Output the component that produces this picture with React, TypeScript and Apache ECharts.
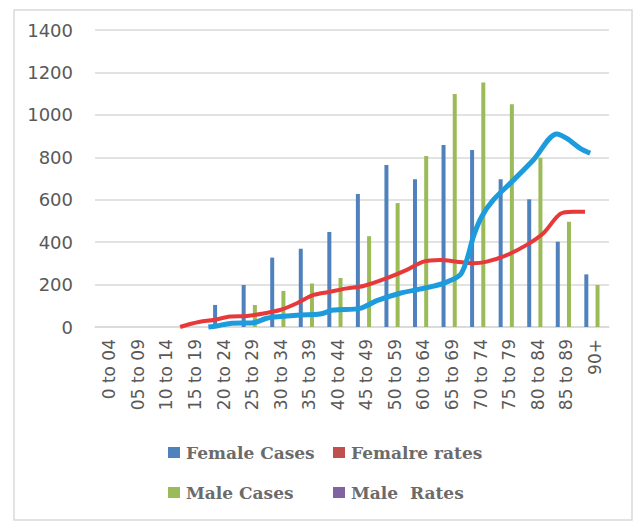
import React, { useEffect, useRef } from "react";
import * as echarts from "echarts";

const categories = [
  "0 to 04", "05 to 09", "10 to 14", "15 to 19", "20 to 24", "25 to 29",
  "30 to 34", "35 to 39", "40 to 44", "45 to 49", "50 to 59", "60 to 64",
  "65 to 69", "70 to 74", "75 to 79", "80 to 84", "85 to 89", "90+",
];
const femaleCases = [0, 0, 0, 0, 104, 198, 327, 369, 448, 627, 764, 696, 858, 834, 696, 602, 402, 248];
const maleCases = [0, 0, 0, 0, 0, 104, 170, 205, 231, 428, 584, 806, 1098, 1152, 1050, 798, 496, 198];
const femaleRates: number[] = [];
const maleRates: number[] = [];

// hand-drawn rate curves (position along category axis, value on case scale)
const femaleCurvePos = [2.98, 3.33, 3.68, 4.15, 4.73, 5.32, 5.9, 6.48, 7.07, 7.65, 8.23, 8.82, 9.4, 10.22, 10.92, 11.5, 12.08, 12.67, 13.25, 13.72, 14.42, 15.12, 15.7, 16.29, 16.75, 17.16];
const femaleCurveVal = [0, 14, 25, 33, 49, 52, 64, 80, 112, 151, 166, 182, 193, 230, 269, 308, 316, 308, 300, 308, 339, 387, 442, 533, 543, 543];
const maleCurvePos = [3.97, 4.26, 4.73, 5.54, 6.01, 6.48, 7.18, 7.88, 8.34, 9.28, 9.87, 10.68, 11.5, 12.2, 12.78, 13.02, 13.25, 13.54, 13.95, 14.54, 15.35, 16.17, 16.52, 16.99, 17.34];
const maleCurveVal = [0, 5, 17, 20, 41, 49, 57, 61, 80, 88, 124, 159, 182, 206, 245, 316, 426, 520, 599, 677, 787, 910, 889, 842, 819];

const yTicks = { min: 0, max: 1400, interval: 200 };

export default function App() {
  const ref = useRef<HTMLDivElement>(null);
  useEffect(() => {
    if (!ref.current) return;
    const chart = echarts.init(ref.current, null, { renderer: "svg" });
    const legendText = {
      fontFamily: "DejaVu Serif",
      fontSize: 17,
      fontWeight: "bold",
      color: "#6b6b6b",
      padding: [0, 0, 0, 1],
    };
    const mkLegend = (name: string, color: string, left: number, top: number) => ({
      data: [{ name, itemStyle: { color } }],
      left,
      top,
      icon: "rect",
      itemWidth: 12,
      itemHeight: 11,
      padding: 0,
      selectedMode: false,
      textStyle: legendText,
    });
    chart.setOption({
      animation: false,
      backgroundColor: "#ffffff",
      graphic: [
        {
          type: "rect",
          shape: { x: 14, y: 10, width: 618, height: 510 },
          style: { fill: "none", stroke: "#D9D9D9", lineWidth: 1.5 },
          silent: true,
        },
      ],
      legend: [
        mkLegend("Female Cases", "#4F81BD", 168, 444),
        mkLegend("Femalre rates", "#C0504D", 333, 444),
        mkLegend("Male Cases", "#9BBB59", 168, 484),
        mkLegend("Male  Rates", "#8064A2", 333, 484),
      ],
      grid: { left: 95, right: 29, top: 30, bottom: 195, containLabel: false },
      xAxis: [
        {
          type: "category",
          data: categories,
          axisTick: { show: false },
          axisLine: { lineStyle: { color: "#D9D9D9", width: 1.5 } },
          axisLabel: {
            interval: 0,
            rotate: 90,
            margin: 12,
            fontFamily: "DejaVu Sans",
            fontSize: 17,
            color: "#595959",
          },
        },
        { type: "value", min: 0, max: 18, show: false },
      ],
      yAxis: {
        type: "value",
        ...yTicks,
        axisLine: { show: false },
        axisTick: { show: false },
        splitLine: { lineStyle: { color: "#D9D9D9", width: 1.5 } },
        axisLabel: {
          margin: 22,
          fontFamily: "DejaVu Sans",
          fontSize: 18,
          color: "#595959",
          formatter: (v: number) => String(v),
        },
      },
      series: [
        { name: "Female Cases", type: "bar", data: femaleCases, barWidth: 4, barGap: "40%", itemStyle: { color: "#4F81BD" } },
        { name: "Femalre rates", type: "bar", data: femaleRates, barWidth: 4, barGap: "40%", itemStyle: { color: "#C0504D" } },
        { name: "Male Cases", type: "bar", data: maleCases, barWidth: 4, barGap: "40%", itemStyle: { color: "#9BBB59" } },
        { name: "Male  Rates", type: "bar", data: maleRates, barWidth: 4, barGap: "40%", itemStyle: { color: "#8064A2" } },
        {
          name: "female-curve",
          type: "line",
          xAxisIndex: 1,
          data: femaleCurvePos.map((p, i) => [p, femaleCurveVal[i]]),
          smooth: 0.3,
          showSymbol: false,
          clip: false,
          lineStyle: { color: "#E8393A", width: 4 },
        },
        {
          name: "male-curve",
          type: "line",
          xAxisIndex: 1,
          data: maleCurvePos.map((p, i) => [p, maleCurveVal[i]]),
          smooth: 0.3,
          showSymbol: false,
          clip: false,
          lineStyle: { color: "#1C9BDD", width: 5 },
        },
      ],
    });
    return () => chart.dispose();
  }, []);
  return <div ref={ref} style={{ width: 638, height: 522, position: "absolute", left: 0, top: 0 }} />;
}
